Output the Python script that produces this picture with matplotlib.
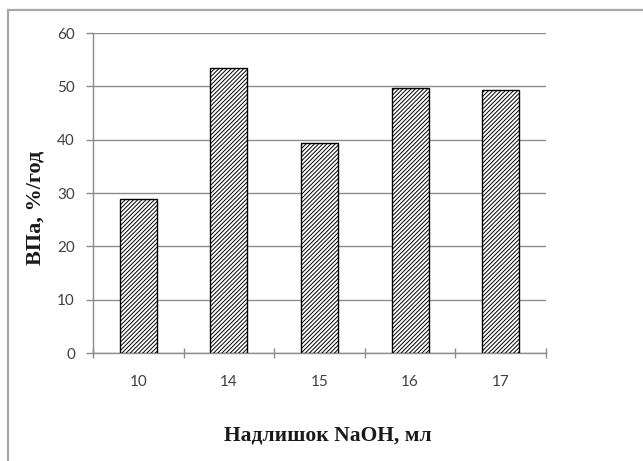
import matplotlib
matplotlib.use("Agg")
import matplotlib.pyplot as plt
from matplotlib.patches import Rectangle

# Data
categories = ["10", "14", "15", "16", "17"]
values = [28.8, 53.5, 39.3, 49.7, 49.3]
y_ticks = [0, 10, 20, 30, 40, 50, 60]

W, H = 643, 461
fig = plt.figure(figsize=(W / 100, H / 100), dpi=100)
fig.patch.set_facecolor("white")

# Outer chart frame (left and top edges visible)
fig.add_artist(Rectangle((8 / W, -0.05), 1.2, 1 - 10 / H + 0.05,
                         transform=fig.transFigure, fill=False,
                         edgecolor="#a8a8a8", linewidth=1.6))

ax = fig.add_axes([93 / W, 1 - 353 / H, (546 - 93) / W, (353 - 33) / H])

plt.rcParams["hatch.linewidth"] = 0.7
x = list(range(len(categories)))
ax.bar(x, values, width=0.41, color="white", edgecolor="black",
       linewidth=1.0, hatch="////////", zorder=3)

ax.set_xlim(-0.5, len(categories) - 0.5)
ax.set_ylim(0, 60)
ax.set_yticks(y_ticks)
ax.set_yticklabels([str(t) for t in y_ticks])
ax.yaxis.grid(True, color="#8c8c8c", linewidth=1.0, zorder=0)
ax.set_axisbelow(True)

# Category ticks sit on the boundaries, labels in the centres
ax.set_xticks([i - 0.5 for i in range(len(categories) + 1)])
ax.set_xticklabels([""] * (len(categories) + 1))
ax.set_xticks(x, minor=True)
ax.set_xticklabels(categories, minor=True)
ax.tick_params(axis="x", which="minor", length=0, pad=16)
ax.tick_params(axis="x", which="major", direction="inout", length=7,
               color="#8c8c8c", width=1.0)
ax.tick_params(axis="y", direction="out", length=5, color="#8c8c8c",
               width=1.0, pad=8)

for lbl in ax.get_xticklabels(minor=True) + ax.get_yticklabels():
    lbl.set_fontfamily("Lato")
    lbl.set_fontsize(11)
    lbl.set_color("#404040")

for s in ["top", "right"]:
    ax.spines[s].set_visible(False)
for s in ["left", "bottom"]:
    ax.spines[s].set_color("#8c8c8c")
    ax.spines[s].set_linewidth(1.0)

fig.text(328 / W, 1 - 435 / H, "Надлишок NaOH, мл", ha="center", va="center",
         fontfamily="Liberation Serif", fontweight="bold", fontsize=15.5,
         color="#1a1a1a")
fig.text(35 / W, 1 - 208 / H, "ВПа, %/год", ha="center", va="center",
         rotation=90, fontfamily="Liberation Serif", fontweight="bold",
         fontsize=16, color="#1a1a1a")

fig.savefig("out.png", dpi=100, facecolor="white")
